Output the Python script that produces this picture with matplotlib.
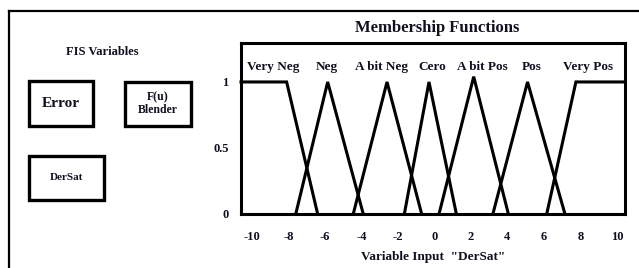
# plot.py
#   membership functions of the fuzzy input "DerSat"

import matplotlib
matplotlib.use('Agg')
import matplotlib.pyplot as plt
from matplotlib.patches import Rectangle
from matplotlib.lines import Line2D

# globals
plt.rcParams['font.family'] = ['Liberation Serif', 'DejaVu Serif']
plt.rcParams['font.weight'] = 'bold'
plt.rcParams['axes.labelweight'] = 'bold'
ink = '#101020'

# data
mf_names = ['Very Neg', 'Neg', 'A bit Neg', 'Cero', 'A bit Pos', 'Pos', 'Very Pos']
mf_x = [
    [-10.6, -8.1, -6.4],
    [-7.6, -5.85, -3.9],
    [-4.45, -2.6, -0.7],
    [-1.65, -0.3, 1.2],
    [0.25, 2.15, 4.05],
    [3.2, 5.1, 7.15],
    [6.15, 7.75, 10.44],
]
mf_y = [
    [1, 1, 0],
    [0, 1, 0],
    [0, 1, 0],
    [0, 1, 0],
    [0, 1.04, 0],
    [0, 1, 0],
    [0, 1, 1],
]
x_ticks = [-10, -8, -6, -4, -2, 0, 2, 4, 6, 8, 10]
y_ticks = [0, 0.5, 1]
y_tick_labels = ['0', '0.5', '1']
fis_vars = ['Error', 'F(u)\nBlender', 'DerSat']

# layout
W, H = 639, 268
label_x = [-8.85, -5.9, -2.88, -0.14, 2.6, 5.34, 8.41]


def fx(px):
    return px / W


def fy(py):
    return 1 - py / H


fig = plt.figure(figsize=(W / 100, H / 100), dpi=100, facecolor='white')

# outer frame (left + top)
fig.add_artist(Line2D([fx(9), fx(9)], [fy(11), 0], transform=fig.transFigure, color='black', lw=1.6))
fig.add_artist(Line2D([fx(9), 1], [fy(11), fy(11)], transform=fig.transFigure, color='black', lw=1.6))

# FIS variables panel
fig.text(fx(102), fy(52), 'FIS Variables', ha='center', va='center', fontsize=9, color=ink)
boxes = [(29, 81, 64, 45), (125, 82, 66, 44), (29, 156, 75, 44)]
sizes = [11, 8.5, 8]
for (bx, by, bw, bh), name, fs in zip(boxes, fis_vars, sizes):
    fig.add_artist(Rectangle((fx(bx), fy(by + bh)), bw / W, bh / H, transform=fig.transFigure,
                             facecolor='white', edgecolor='black', lw=2.4))
    fig.text(fx(bx + bw / 2), fy(by + bh / 2), name, ha='center', va='center',
             fontsize=fs, color=ink, linespacing=1.1)

# membership functions axes
ax = fig.add_axes([fx(241), fy(214), (625 - 241) / W, (214 - 43) / H])
for xs, ys in zip(mf_x, mf_y):
    ax.plot(xs, ys, color='black', lw=2.2, solid_joinstyle='miter', clip_on=False)
for name, lx in zip(mf_names, label_x):
    ax.text(lx, 1.11, name, ha='center', va='center', fontsize=9.5, color=ink)

ax.set_xlim(-10.6, 10.44)
ax.set_ylim(0, 1.295)
ax.set_xticks(x_ticks)
ax.set_xticklabels([str(t) for t in x_ticks])
ax.set_yticks(y_ticks)
ax.set_yticklabels(y_tick_labels)
ax.tick_params(length=0, labelsize=9, labelcolor=ink)
ax.tick_params(axis='x', pad=12)
ax.tick_params(axis='y', pad=9)
for s in ax.spines.values():
    s.set_linewidth(2.2)
    s.set_color('black')
ax.set_xlabel('Variable Input  "DerSat"', fontsize=9.5, color=ink, labelpad=6)

fig.text(fx(437), fy(28), 'Membership Functions', ha='center', va='center', fontsize=12, color=ink)

fig.savefig('out.png', dpi=100, facecolor='white')
